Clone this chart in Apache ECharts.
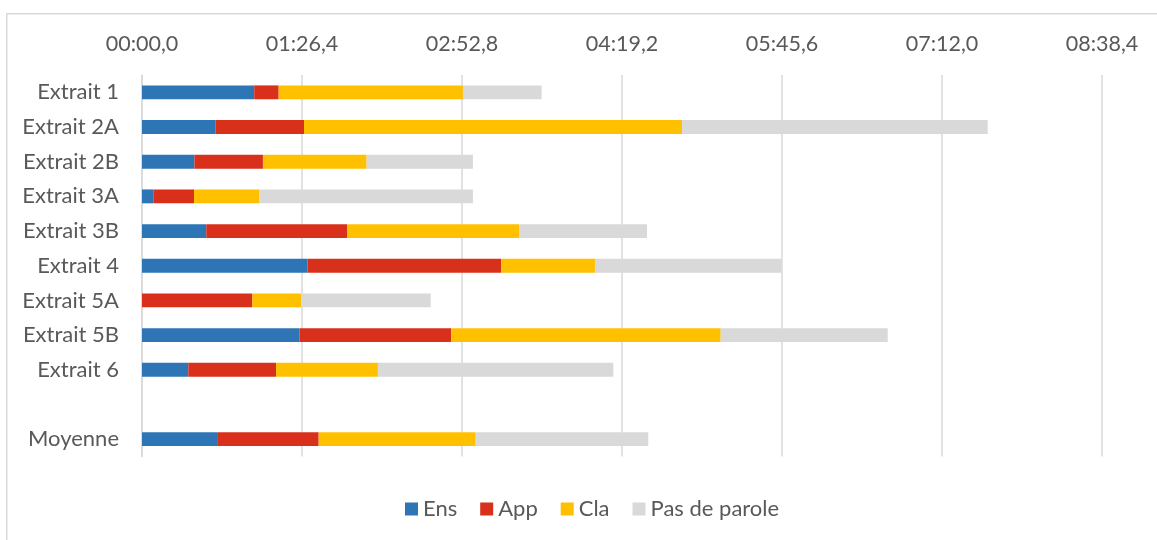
<!DOCTYPE html>
<html>
<head>
<meta charset="utf-8">
<script src="https://cdn.jsdelivr.net/npm/echarts@6/dist/echarts.min.js"></script>
<style>
html,body{margin:0;padding:0;background:#fff;}
#c{width:1157px;height:540px;}
</style>
</head>
<body>
<div id="c"></div>
<script>
// Durations in seconds
const categories = ['Extrait 1','Extrait 2A','Extrait 2B','Extrait 3A','Extrait 3B','Extrait 4','Extrait 5A','Extrait 5B','Extrait 6','','Moyenne'];
const ens  = [60.6, 39.6, 28.3, 6.1, 34.7, 89.3, 0, 85.1, 25.0, null, 41.0];
const app  = [13.2, 47.9, 37.0, 22.0, 76.0, 104.6, 59.6, 81.9, 47.4, null, 54.4];
const cla  = [99.5, 204.1, 56.0, 35.1, 92.9, 50.7, 26.3, 145.5, 55.0, null, 84.8];
const pas  = [42.5, 165.1, 57.4, 115.5, 69.1, 100.8, 70.0, 90.2, 127.1, null, 93.2];
const seriesNames = ['Ens','App','Cla','Pas de parole'];
const tickStep = 86.4;
const axisMax = 518.4;

function fmt(v){
  const tenths = Math.round(v*10);
  const m = Math.floor(tenths/600);
  const s = (tenths - m*600)/10;
  const ss = Math.floor(s);
  const d = Math.round((s-ss)*10);
  return String(m).padStart(2,'0') + ':' + String(ss).padStart(2,'0') + ',' + d;
}

const colors = ['#2E75B6','#D9301C','#FFC000','#D9D9D9'];
const font = 'Lato, "Open Sans", sans-serif';
const dataSets = [ens, app, cla, pas];

const chart = echarts.init(document.getElementById('c'), null, {renderer:'canvas'});
chart.setOption({
  animation:false,
  color: colors,
  graphic:[{
    type:'rect', left:6, top:13, z:-10,
    shape:{x:0,y:0,width:1300,height:700},
    style:{fill:'#fff', stroke:'#D9D9D9', lineWidth:1.5}
  }],
  grid:{left:142, right:55, top:75, height:381.5, containLabel:false},
  legend:{
    top:493, left:400,
    itemWidth:13, itemHeight:13, itemGap:23,
    icon:'rect',
    textStyle:{color:'#595959', fontSize:22, fontFamily:font},
    data: seriesNames
  },
  xAxis:{
    type:'value', position:'top', min:0, max:axisMax, interval:tickStep,
    axisLine:{show:false}, axisTick:{show:false},
    splitLine:{lineStyle:{color:'#D9D9D9', width:1.5}},
    axisLabel:{color:'#595959', fontSize:21.5, fontFamily:font, margin:20, formatter:fmt}
  },
  yAxis:{
    type:'category', inverse:true, data:categories,
    axisLine:{lineStyle:{color:'#D9D9D9', width:1.5}},
    axisTick:{show:false},
    axisLabel:{color:'#595959', fontSize:22, fontFamily:font, margin:23}
  },
  series: seriesNames.map((n,i)=>({
    name:n, type:'bar', stack:'t', barWidth:'40%',
    data: dataSets[i],
    itemStyle:{color:colors[i]}
  }))
});
</script>
</body>
</html>
